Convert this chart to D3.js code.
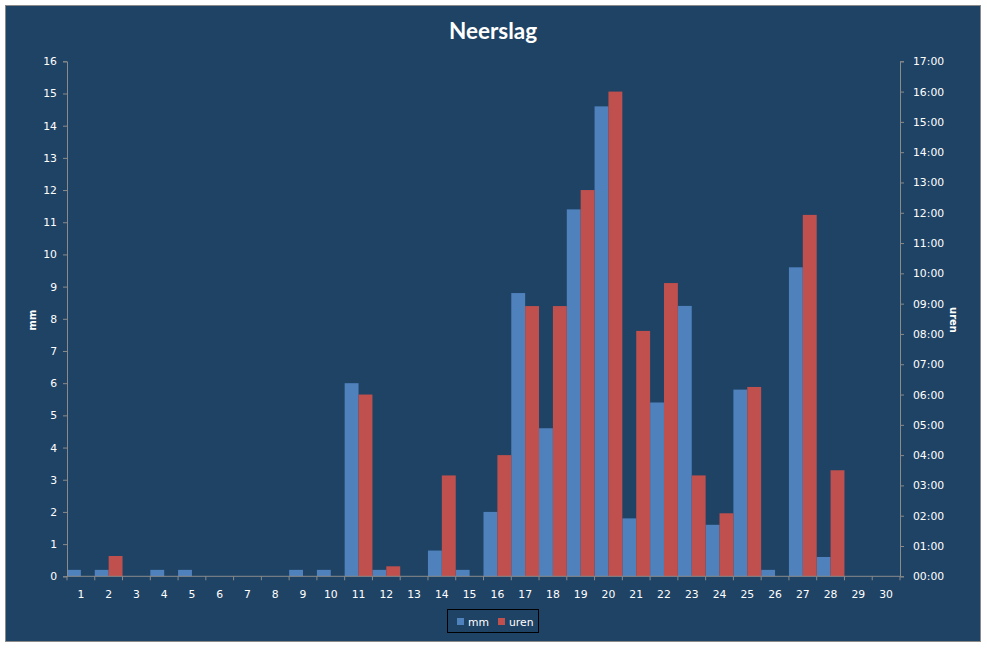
<!DOCTYPE html>
<html><head><meta charset="utf-8">
<script src="https://cdn.jsdelivr.net/npm/d3@7"></script>
<style>
html,body{margin:0;padding:0;background:#fff;}
svg{display:block;}
</style></head>
<body>
<svg id="c" width="987" height="648"></svg>
<script>
const days = d3.range(1, 31).map(String);
const mm = [0.2,0.2,0,0.2,0.2,0,0,0,0.2,0.2,6.0,0.2,0,0.8,0.2,2.0,8.8,4.6,11.4,14.6,1.8,5.4,8.4,1.6,5.8,0.2,9.6,0.6,0,0];
const uren = [0,0.67,0,0,0,0,0,0,0,0,6.0,0.33,0,3.33,0,4.0,8.92,8.92,12.75,16.0,8.1,9.68,3.33,2.08,6.25,0,11.93,3.5,0,0];
const mmTicks = d3.range(0, 17);
const hourTicks = d3.range(0, 18);
const seriesNames = ["mm", "uren"];
const colors = ["#4F81BD", "#C0504D"];

(function () {
const svg = d3.select("#c");
const pL = 67, pR = 900, pT = 61.3, pB = 576.3;

svg.append("rect").attr("x", 5.5).attr("y", 5.5).attr("width", 975).attr("height", 636)
  .attr("fill", "#1F4365").attr("stroke", "#8a8a8a").attr("stroke-width", 1);

const x = d3.scaleBand().domain(days).range([pL, pR]).paddingInner(0).paddingOuter(0);
const xs = d3.scaleBand().domain(seriesNames).range([0, x.bandwidth()]);
const yL = d3.scaleLinear().domain([0, 16]).range([pB, pT]);
const yR = d3.scaleLinear().domain([0, 17]).range([pB, pT]);

const g = svg.append("g");
g.selectAll("rect.mm").data(mm).join("rect").attr("class", "mm")
  .attr("x", (d, i) => x(days[i]) + xs("mm"))
  .attr("width", xs.bandwidth())
  .attr("y", d => yL(d)).attr("height", d => yL(0) - yL(d))
  .attr("fill", colors[0]);
g.selectAll("rect.uren").data(uren).join("rect").attr("class", "uren")
  .attr("x", (d, i) => x(days[i]) + xs("uren"))
  .attr("width", xs.bandwidth())
  .attr("y", d => yR(d)).attr("height", d => yR(0) - yR(d))
  .attr("fill", colors[1]);

const axisColor = "#8a8a8a";
const font = "DejaVu Sans, Verdana, sans-serif";

function style(sel) {
  sel.selectAll(".domain").attr("stroke", axisColor);
  sel.selectAll(".tick line").attr("stroke", axisColor);
  sel.selectAll(".tick text").attr("fill", "#fff").attr("font-family", font).attr("font-size", "10.8px");
}

const axL = svg.append("g").attr("transform", `translate(${pL},0)`)
  .call(d3.axisLeft(yL).tickValues(mmTicks).tickSize(4).tickSizeOuter(4).tickPadding(6).tickFormat(d3.format("d")));
style(axL);

const axR = svg.append("g").attr("transform", `translate(${pR},0)`)
  .call(d3.axisRight(yR).tickValues(hourTicks).tickSize(4).tickSizeOuter(4).tickPadding(9)
    .tickFormat(d => String(d).padStart(2, "0") + ":00"));
style(axR);

const axB = svg.append("g").attr("transform", `translate(0,${pB})`)
  .call(d3.axisBottom(x).tickSize(0).tickSizeOuter(0).tickPadding(14));
style(axB);
axB.select(".domain").remove();
axB.append("line").attr("x1", pL).attr("x2", pR).attr("y1", 0).attr("y2", 0).attr("stroke", axisColor);
const bounds = days.map(d => x(d)).concat([pR]);
axB.selectAll("line.bt").data(bounds).join("line").attr("class", "bt")
  .attr("x1", d => d).attr("x2", d => d)
  .attr("y1", 0).attr("y2", 4).attr("stroke", axisColor);

svg.append("text").attr("x", 493).attr("y", 38.5).attr("text-anchor", "middle")
  .attr("fill", "#fff").attr("font-family", "Lato, 'Open Sans', sans-serif").attr("font-weight", "bold")
  .attr("font-size", "22.5px").text("Neerslag");

svg.append("text").attr("transform", "translate(36,320) rotate(-90)").attr("text-anchor", "middle")
  .attr("fill", "#fff").attr("font-family", font).attr("font-weight", "bold").attr("font-size", "10px").text("mm");
svg.append("text").attr("transform", "translate(950,320) rotate(90)").attr("text-anchor", "middle")
  .attr("fill", "#fff").attr("font-family", font).attr("font-weight", "bold").attr("font-size", "10px").text("uren");

const lg = svg.append("g");
lg.append("rect").attr("x", 447.5).attr("y", 609.5).attr("width", 91).attr("height", 23)
  .attr("fill", "none").attr("stroke", "#000").attr("stroke-width", 1);
const legX = [457, 498];
seriesNames.forEach((s, i) => {
  lg.append("rect").attr("x", legX[i]).attr("y", 618).attr("width", 7).attr("height", 7).attr("fill", colors[i]);
  lg.append("text").attr("x", legX[i] + 11).attr("y", 625.5).attr("fill", "#fff")
    .attr("font-family", font).attr("font-size", "10.8px").text(s);
});
})();
</script>
</body></html>
